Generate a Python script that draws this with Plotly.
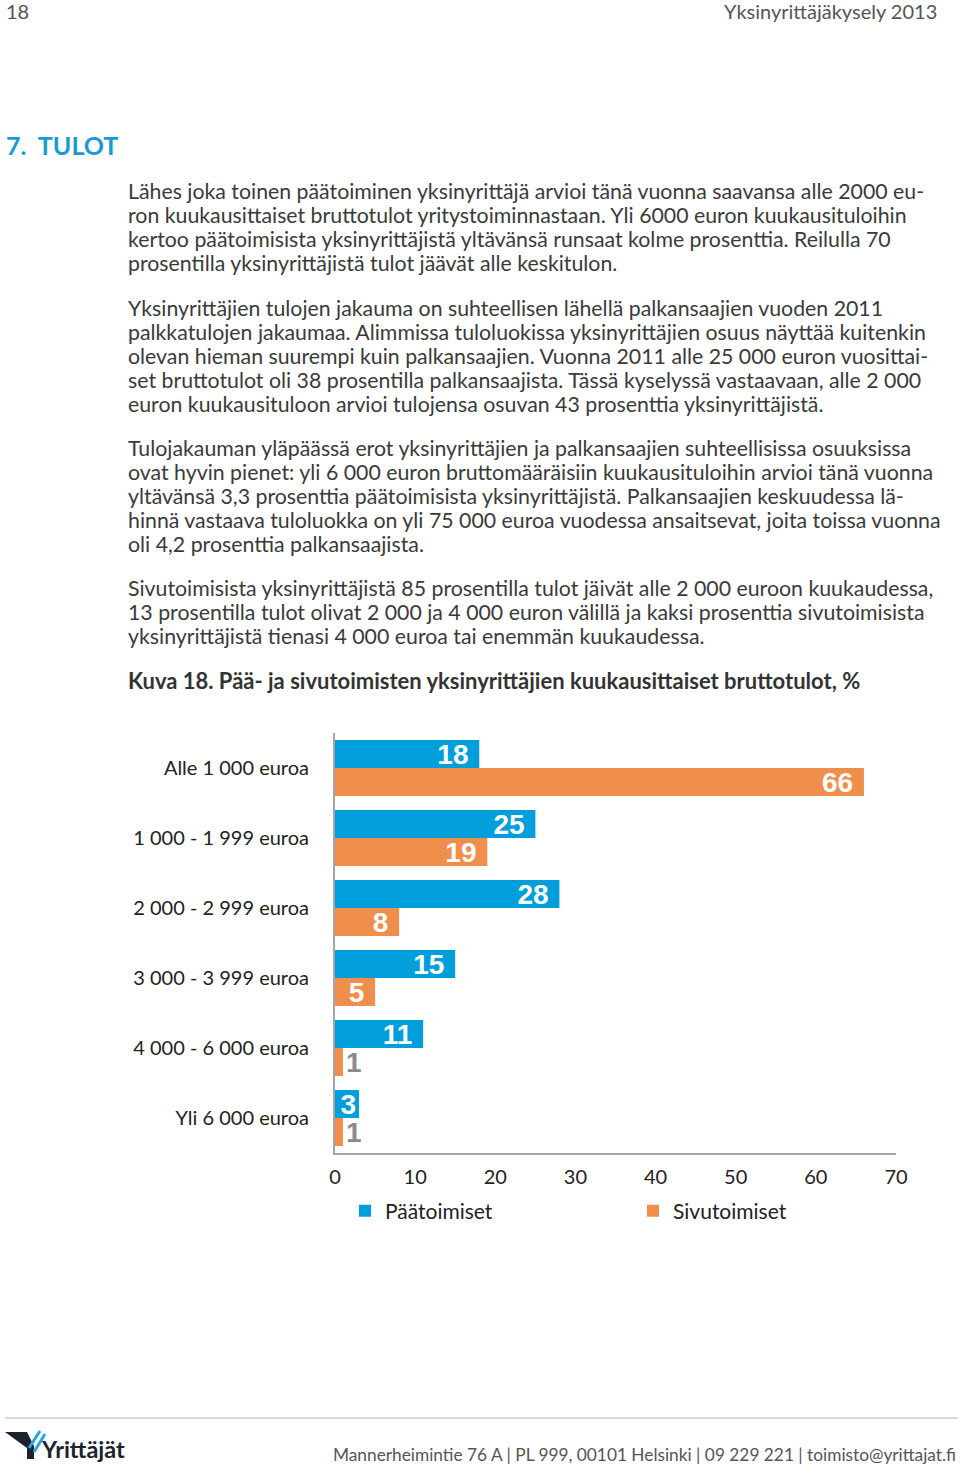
import plotly.graph_objects as go

W, H = 960, 1466

categories = ["Alle 1 000 euroa", "1 000 - 1 999 euroa", "2 000 - 2 999 euroa",
              "3 000 - 3 999 euroa", "4 000 - 6 000 euroa", "Yli 6 000 euroa"]
paatoimiset = [18, 25, 28, 15, 11, 3]
sivutoimiset = [66, 19, 8, 5, 1, 1]
x_ticks = [0, 10, 20, 30, 40, 50, 60, 70]

BLUE = "#009fdb"
ORANGE = "#ef8f4b"
FONT = "Lato"
LABEL_FONT = "Liberation Sans"
TXT = "#3a3a3a"


def px(x):
    return x / W


def py(y):
    return 1 - y / H


def label_pos(vals):
    return ["outside" if v <= 1 else "inside" for v in vals]


def label_text(vals):
    # wide bars get a little right padding after the number
    return [str(v) + "\u00a0" if v > 3 else str(v) for v in vals]


def bar(name, vals, color):
    return go.Bar(
        y=categories, x=vals, orientation="h", name=name,
        marker=dict(color=color, line=dict(width=0)),
        text=label_text(vals), textposition=label_pos(vals), textangle=0,
        insidetextanchor="end", constraintext="none", cliponaxis=False,
        insidetextfont=dict(family=LABEL_FONT, size=28, color="white", weight="bold"),
        outsidetextfont=dict(family=LABEL_FONT, size=28, color="#8a8a8a", weight="bold"),
    )


fig = go.Figure()
fig.add_trace(bar("Päätoimiset", paatoimiset, BLUE))
fig.add_trace(bar("Sivutoimiset", sivutoimiset, ORANGE))

annotations = []


def add_text(x, y, text, size=21.3, color=TXT, anchor="left", bold=False, family=FONT):
    annotations.append(dict(
        x=px(x), y=py(y), xref="paper", yref="paper", text=text, showarrow=False,
        xanchor=anchor, yanchor="middle",
        font=dict(family=family, size=size, color=color, weight="bold" if bold else "normal"),
    ))


# header
add_text(4, 11, "18", size=20, color="#555555")
add_text(939, 11, "Yksinyrittäjäkysely 2013", size=20, color="#555555", anchor="right")
add_text(4, 145, "7.  TULOT", size=25, color="#1b9ad2", bold=True)

paragraphs = [
    (191, ["Lähes joka toinen päätoiminen yksinyrittäjä arvioi tänä vuonna saavansa alle 2000 eu-",
           "ron kuukausittaiset bruttotulot yritystoiminnastaan. Yli 6000 euron kuukausituloihin",
           "kertoo päätoimisista yksinyrittäjistä yltävänsä runsaat kolme prosenttia. Reilulla 70",
           "prosentilla yksinyrittäjistä tulot jäävät alle keskitulon."]),
    (308, ["Yksinyrittäjien tulojen jakauma on suhteellisen lähellä palkansaajien vuoden 2011",
           "palkkatulojen jakaumaa. Alimmissa tuloluokissa yksinyrittäjien osuus näyttää kuitenkin",
           "olevan hieman suurempi kuin palkansaajien. Vuonna 2011 alle 25 000 euron vuosittai-",
           "set bruttotulot oli 38 prosentilla palkansaajista. Tässä kyselyssä vastaavaan, alle 2 000",
           "euron kuukausituloon arvioi tulojensa osuvan 43 prosenttia yksinyrittäjistä."]),
    (448, ["Tulojakauman yläpäässä erot yksinyrittäjien ja palkansaajien suhteellisissa osuuksissa",
           "ovat hyvin pienet: yli 6 000 euron bruttomääräisiin kuukausituloihin arvioi tänä vuonna",
           "yltävänsä 3,3 prosenttia päätoimisista yksinyrittäjistä. Palkansaajien keskuudessa lä-",
           "hinnä vastaava tuloluokka on yli 75 000 euroa vuodessa ansaitsevat, joita toissa vuonna",
           "oli 4,2 prosenttia palkansaajista."]),
    (588, ["Sivutoimisista yksinyrittäjistä 85 prosentilla tulot jäivät alle 2 000 euroon kuukaudessa,",
           "13 prosentilla tulot olivat 2 000 ja 4 000 euron välillä ja kaksi prosenttia sivutoimisista",
           "yksinyrittäjistä tienasi 4 000 euroa tai enemmän kuukaudessa."]),
]
for y0, lines in paragraphs:
    for i, line in enumerate(lines):
        add_text(126, y0 + 24 * i, line)

add_text(126, 680, "Kuva 18. Pää- ja sivutoimisten yksinyrittäjien kuukausittaiset bruttotulot, %",
         size=22, color="#333333", bold=True)

# footer
add_text(331, 1454, "Mannerheimintie 76 A | PL 999, 00101 Helsinki | 09 229 221 | toimisto@yrittajat.fi",
         size=17.3, color="#555555")
add_text(39, 1449, "Yrittäjät", size=23.5, color="#1c2230", bold=True)

shapes = [
    dict(type="line", xref="paper", yref="paper", x0=px(5), x1=px(958), y0=py(1418), y1=py(1418),
         line=dict(color="#cccccc", width=1.5)),
    # logo marks
    dict(type="path", xref="paper", yref="paper",
         path=(f"M {px(5)} {py(1432)} L {px(27)} {py(1432)} L {px(34)} {py(1446)} "
               f"L {px(34)} {py(1459)} L {px(27)} {py(1459)} L {px(27)} {py(1448)} Z"),
         fillcolor="#1c2230", line=dict(width=0)),
    dict(type="line", xref="paper", yref="paper", x0=px(29), x1=px(40), y0=py(1448), y1=py(1431),
         line=dict(color="#2aa6dc", width=3)),
    dict(type="line", xref="paper", yref="paper", x0=px(34), x1=px(45), y0=py(1452), y1=py(1434),
         line=dict(color="#2aa6dc", width=3)),
]

fig.update_layout(
    width=W, height=H,
    margin=dict(l=0, r=0, t=0, b=0, autoexpand=False),
    paper_bgcolor="white", plot_bgcolor="white",
    barmode="group", bargap=0.2, bargroupgap=0,
    showlegend=True,
    legend=dict(orientation="h", x=px(345), y=py(1211), xanchor="left", yanchor="middle",
                entrywidth=243, entrywidthmode="pixels",
                font=dict(family=FONT, size=21, color="#222222"),
                bgcolor="rgba(0,0,0,0)", itemclick=False),
    xaxis=dict(domain=[px(335), px(896)], range=[0, 70], tickvals=x_ticks,
               showgrid=False, zeroline=False, showline=True, linecolor="#a6a6a6", linewidth=2,
               ticks="", ticklabelstandoff=5, automargin=False,
               tickfont=dict(family=FONT, size=20, color="#222222"), anchor="y"),
    yaxis=dict(domain=[py(1153), py(733)], autorange="reversed", categoryorder="array",
               categoryarray=categories, showgrid=False, zeroline=False,
               showline=True, linecolor="#a6a6a6", linewidth=2, ticks="",
               ticklabelstandoff=20, automargin=False,
               tickfont=dict(family=FONT, size=20, color="#222222"), anchor="x"),
    annotations=annotations,
    shapes=shapes,
)

fig.write_html("out.html", config={"displayModeBar": False},
               post_script="document.body.style.margin='0';")
